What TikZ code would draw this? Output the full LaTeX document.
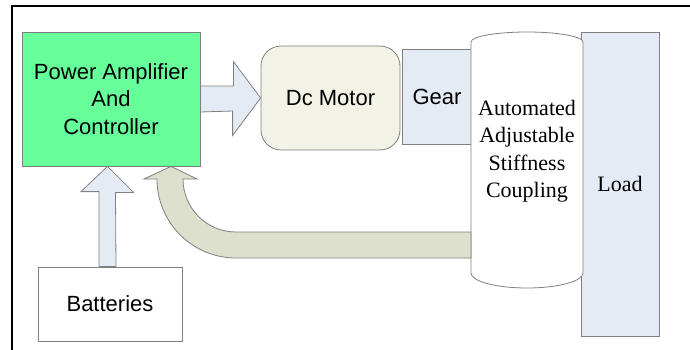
\documentclass[tikz,border=0pt]{standalone}
\usepackage{fontspec}
\setmainfont{Liberation Serif}
\setsansfont{Liberation Sans}
\usepackage{tikz}
\usetikzlibrary{positioning}

\definecolor{ampgreen}{RGB}{102,255,153}
\definecolor{motorfill}{RGB}{242,242,230}
\definecolor{paleblue}{RGB}{229,235,245}
\definecolor{fbfill}{RGB}{221,224,204}
\definecolor{edge}{RGB}{128,128,128}

\begin{document}
\begin{tikzpicture}[x=1pt, y=-1pt,
    font=\sffamily\fontsize{22}{27.5}\selectfont,
    block/.style={draw=edge, line width=0.8pt, rectangle, align=center, inner sep=0pt},
    part/.style={draw=edge, line width=0.8pt},
    blockarrow/.style={draw=edge, line width=0.8pt, line join=miter}]
    \useasboundingbox (0,0) rectangle (690,350);

    % Frame
    \draw [line width=2pt] (12,350) -- (12,6) -- (690,6);

    % Nodes {amp, motor, gear, load, coupling, batt}
    \node [block, fill=ampgreen, minimum width=178pt, minimum height=134pt]   (amp)   at (111,99)    {Power Amplifier\\And\\Controller};
    \node [block, fill=motorfill, rounded corners=20pt, minimum width=139pt, minimum height=104pt] (motor) at (330.5,98) {Dc Motor};
    \node [block, fill=paleblue, minimum width=70pt, minimum height=95pt]    (gear)  at (437,96.5)  {Gear};
    \node [block, fill=paleblue, minimum width=78pt, minimum height=304pt, font=\rmfamily\fontsize{22}{27.5}\selectfont] (load) at (620,184) {Load};
    \node [block, fill=white, minimum width=144pt, minimum height=74pt]      (batt)  at (110,304)   {Batteries};

    % Coupling (cylinder)
    \filldraw [part, fill=white] (471,42) -- (471,273)
        arc [start angle=180, end angle=0, x radius=56, y radius=15] -- (583,42)
        arc [start angle=0, end angle=-180, x radius=56, y radius=10] -- cycle;
    \node [align=center, font=\rmfamily\fontsize{22}{27.5}\selectfont] (coupling) at (527,151)
        {Automated\\Adjustable\\Stiffness\\Coupling};
    \coordinate (fb) at (471,245);

    % Paths
    \filldraw [blockarrow, fill=paleblue] ([yshift=13pt]amp.east) -- ++(33,0) -- ++(0,-24.5)
        -- (motor.west) -- ++(-28,37.5) -- ++(0,-24.5) -- ([yshift=-13pt]amp.east) -- cycle;
    \filldraw [blockarrow, fill=paleblue] ([xshift=-11pt]batt.north) -- ++(0,-75) -- ++(-18,0)
        -- ([xshift=-3.5pt]amp.south) -- ++(26,26) -- ++(-18,0) -- ([xshift=6pt]batt.north) -- cycle;
    \filldraw [blockarrow, fill=fbfill] ([yshift=-13pt]fb) -- (236,258)
        arc [start angle=90, end angle=180, radius=79] -- (144,179)
        -- ([xshift=60pt]amp.south) -- (197,179) -- (183,179)
        arc [start angle=180, end angle=90, radius=53] -- ([yshift=13pt]fb) -- cycle;

\end{tikzpicture}
\end{document}
